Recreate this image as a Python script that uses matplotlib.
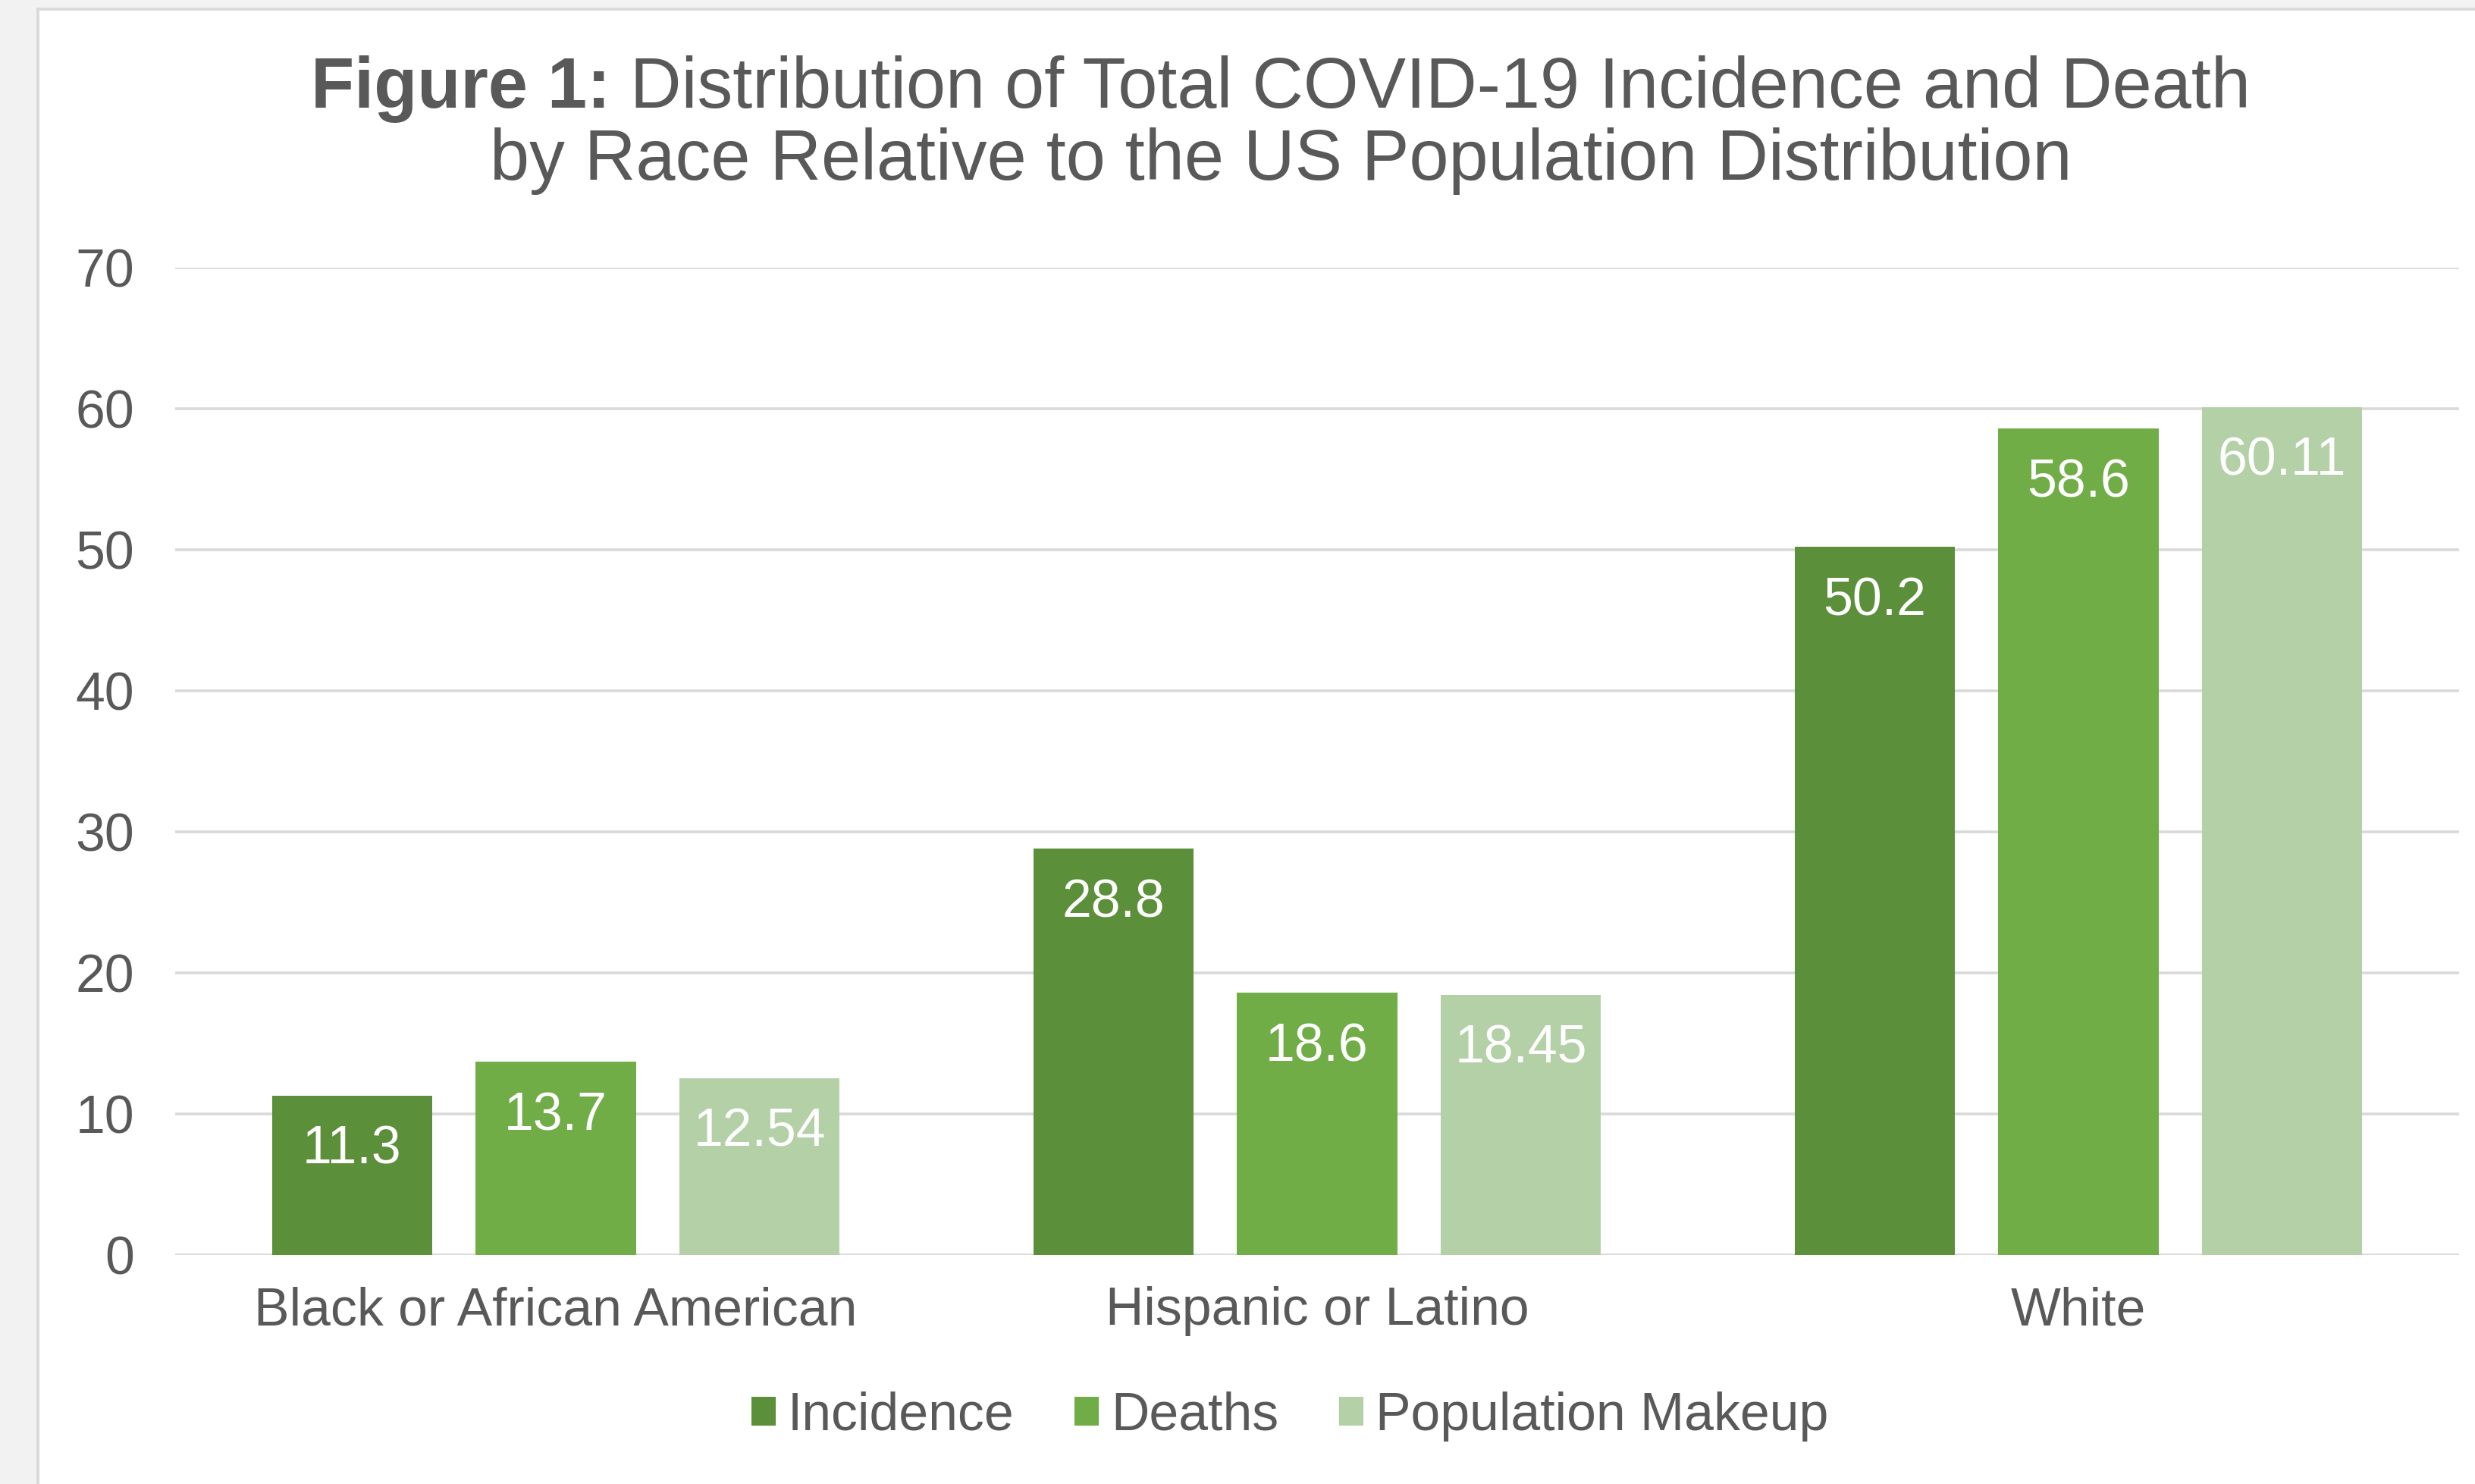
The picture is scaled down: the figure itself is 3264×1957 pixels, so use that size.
import matplotlib
matplotlib.use("Agg")
import matplotlib.pyplot as plt
from matplotlib.patches import Rectangle, Patch
import numpy as np

plt.rcParams['font.family'] = ['Liberation Sans', 'DejaVu Sans']

categories = ["Black or African American", "Hispanic or Latino", "White"]
series_names = ["Incidence", "Deaths", "Population Makeup"]
incidence = [11.3, 28.8, 50.2]
deaths = [13.7, 18.6, 58.6]
population = [12.54, 18.45, 60.11]
value_labels = [["11.3", "28.8", "50.2"],
                ["13.7", "18.6", "58.6"],
                ["12.54", "18.45", "60.11"]]
y_ticks = [0, 10, 20, 30, 40, 50, 60, 70]

colors = ["#5B8F39", "#70AD47", "#B4D0A6"]
text_color = "#595959"
grid_color = "#D9D9D9"

W, H, DPI = 3264, 1957, 200
fig = plt.figure(figsize=(W / DPI, H / DPI), dpi=DPI)
fig.patch.set_facecolor("#F2F2F2")

# white chart panel with thin gray border
panel = Rectangle((50 / W, -0.05), 1.2, 1 - 12 / H + 0.05, transform=fig.transFigure,
                  facecolor="white", edgecolor=grid_color, linewidth=1.4, zorder=-10)
fig.patches.append(panel)

ax = fig.add_axes([231 / W, 1 - 1655 / H, (3243 - 231) / W, (1655 - 353) / H])
ax.set_facecolor("none")
ax.set_zorder(1)

fs = 25.1
x = np.arange(len(categories))
width = 0.2103
step = 0.2675
all_series = [incidence, deaths, population]
for i, (vals, name, c) in enumerate(zip(all_series, series_names, colors)):
    xs = x + (i - 1) * step
    ax.bar(xs, vals, width=width, color=c, label=name, zorder=3)
    for xi, v, lab in zip(xs, vals, value_labels[i]):
        ax.annotate(lab, (xi, v), xytext=(0, -90 * 72 / DPI), textcoords="offset points",
                    ha="center", va="baseline", color="white", fontsize=fs, zorder=4)

ax.set_xlim(-0.5, 2.5)
ax.set_ylim(0, 70)
ax.set_yticks(y_ticks)
ax.set_xticks(x)
ax.set_xticklabels(categories)
ax.tick_params(axis="both", length=0, labelsize=fs, labelcolor=text_color)
ax.tick_params(axis="y", pad=54 * 72 / DPI)
ax.tick_params(axis="x", pad=41 * 72 / DPI)
for s in ax.spines.values():
    s.set_visible(False)
ax.yaxis.grid(True, color=grid_color, linewidth=1.3, zorder=0)
ax.set_axisbelow(True)

# legend below the plot
handles = [Patch(facecolor=c, edgecolor="none") for c in colors]
fig.legend(handles, series_names, loc="center", bbox_to_anchor=(1701 / W, 1 - 1868 / H),
           ncol=3, frameon=False, fontsize=fs, labelcolor=text_color,
           handlelength=0.46, handleheight=0.46, handletextpad=0.22, columnspacing=1.15)

# two-line title, first line begins with a bold label
tfs = 33.7
cx = 1689 / W
renderer = fig.canvas.get_renderer()
t_bold = fig.text(0, 1 - 142 / H, "Figure 1:", fontsize=tfs, fontweight="bold",
                  color=text_color, ha="left", va="baseline")
t_rest = fig.text(0, 1 - 142 / H, " Distribution of Total COVID-19 Incidence and Death",
                  fontsize=tfs, color=text_color, ha="left", va="baseline")
wb = t_bold.get_window_extent(renderer).width
wr = t_rest.get_window_extent(renderer).width
left = cx * W - (wb + wr) / 2
t_bold.set_x(left / W)
t_rest.set_x((left + wb) / W)
fig.text(cx, 1 - 237 / H, "by Race Relative to the US Population Distribution",
         fontsize=tfs, color=text_color, ha="center", va="baseline")

fig.savefig("out.png", dpi=DPI, facecolor=fig.get_facecolor())
